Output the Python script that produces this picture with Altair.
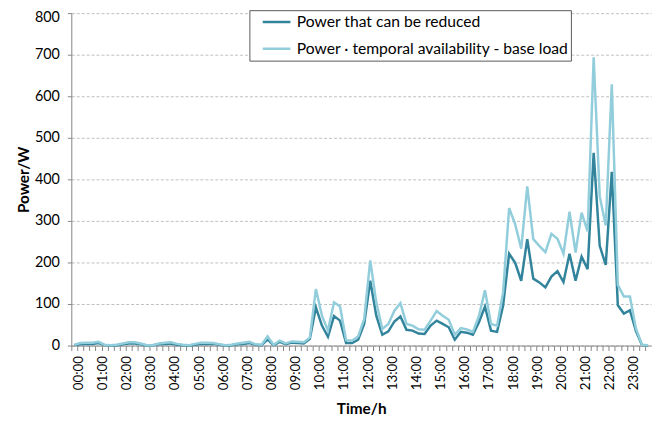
import altair as alt
import pandas as pd

# 15-minute time slots (96 categories)
times = [f"{h:02d}:{m:02d}" for h in range(24) for m in (0, 15, 30, 45)]

reduced = [
    1, 3, 4, 4, 6, 1, 0, 1, 3, 5, 5, 3, 0, 1, 3, 4, 5, 2, 1, 0,
    2, 4, 4, 4, 2, 0, 1, 3, 4, 6, 2, 1, 15, 1, 9, 3, 7, 6, 5, 16,
    92, 48, 21, 71, 60, 6, 6, 14, 52, 156, 72, 26, 34, 58, 70, 38, 36, 29, 28, 48,
    60, 52, 44, 14, 33, 31, 26, 56, 94, 36, 33, 96, 221, 199, 156, 256, 161, 152, 140, 166,
    179, 153, 221, 156, 214, 184, 464, 240, 194, 418, 97, 77, 85, 35, 1, 0,
]

available = [
    2, 6, 7, 7, 9, 2, 1, 2, 5, 8, 8, 5, 1, 1, 5, 7, 8, 4, 2, 1,
    4, 7, 7, 6, 3, 1, 2, 5, 7, 9, 3, 2, 22, 2, 12, 5, 10, 9, 8, 19,
    136, 72, 36, 104, 94, 13, 12, 22, 64, 205, 104, 40, 52, 84, 102, 52, 48, 39, 38, 60,
    83, 72, 62, 26, 42, 39, 33, 71, 133, 52, 48, 128, 331, 292, 233, 383, 256, 240, 225, 269,
    257, 221, 322, 224, 320, 275, 694, 359, 289, 629, 146, 118, 118, 41, 2, 1,
]

series_names = ["Power that can be reduced", "Power · temporal availability - base load"]
series_colors = ["#31849B", "#92CDDC"]

df = pd.concat([
    pd.DataFrame({"time": times, "value": reduced, "series": series_names[0], "order": 1}),
    pd.DataFrame({"time": times, "value": available, "series": series_names[1], "order": 0}),
])

FONT = "Lato"

chart = alt.Chart(df).mark_line(strokeWidth=2.5).encode(
    x=alt.X(
        "time:O",
        sort=times,
        scale=alt.Scale(type="point", padding=0.5),
        axis=alt.Axis(
            title="Time/h",
            labelAngle=270,
            labelExpr="substring(datum.value, 3) == '00' ? datum.value : ''",
            labelOverlap=False,
            labelFontSize=13.5,
            labelFont=FONT,
            labelColor="#000000",
            labelPadding=5,
            tickOffset=-3,
            labelOffset=7,
            tickSize=5,
            tickColor="#868686",
            domainColor="#868686",
            titleFont=FONT,
            titleFontSize=15.5,
            titleFontWeight="bold",
            titleColor="#000000",
            titlePadding=12,
            grid=False,
        ),
    ),
    y=alt.Y(
        "value:Q",
        scale=alt.Scale(domain=[0, 800]),
        axis=alt.Axis(
            title="Power/W",
            values=[0, 100, 200, 300, 400, 500, 600, 700, 800],
            labelFontSize=14.5,
            labelFont=FONT,
            labelColor="#000000",
            labelPadding=8,
            labelOffset={"condition": {"test": "datum.value == 800", "value": 4}, "value": 0},
            tickSize=4,
            tickColor="#868686",
            domainColor="#868686",
            grid=True,
            gridColor="#BFBFBF",
            gridDash=[3, 2],
            gridWidth=1,
            titleFont=FONT,
            titleFontSize=15.5,
            titleFontWeight="bold",
            titleColor="#000000",
            titlePadding=3,
        ),
    ),
    color=alt.Color(
        "series:N",
        scale=alt.Scale(domain=series_names, range=series_colors),
        legend=alt.Legend(
            title=None,
            orient="none",
            legendX=180,
            legendY=-3,
            symbolType="stroke",
            symbolSize=784,
            symbolStrokeWidth=2.5,
            symbolOffset=10,
            clipHeight=20,
            labelFont=FONT,
            labelFontSize=15.8,
            labelColor="#000000",
            labelOffset=5,
            padding=2,
            rowPadding=7,
            strokeColor="#595959",
            fillColor="#FFFFFF",
            labelLimit=420,
        ),
    ),
    order=alt.Order("order:Q"),
).properties(
    width=586,
    height=336,
    autosize=alt.AutoSizeParams(type="none"),
    padding={"left": 64, "top": 3, "right": 4, "bottom": 70},
).configure_view(stroke=None)

chart.save("out.html", embed_options={"renderer": "svg", "actions": False})
